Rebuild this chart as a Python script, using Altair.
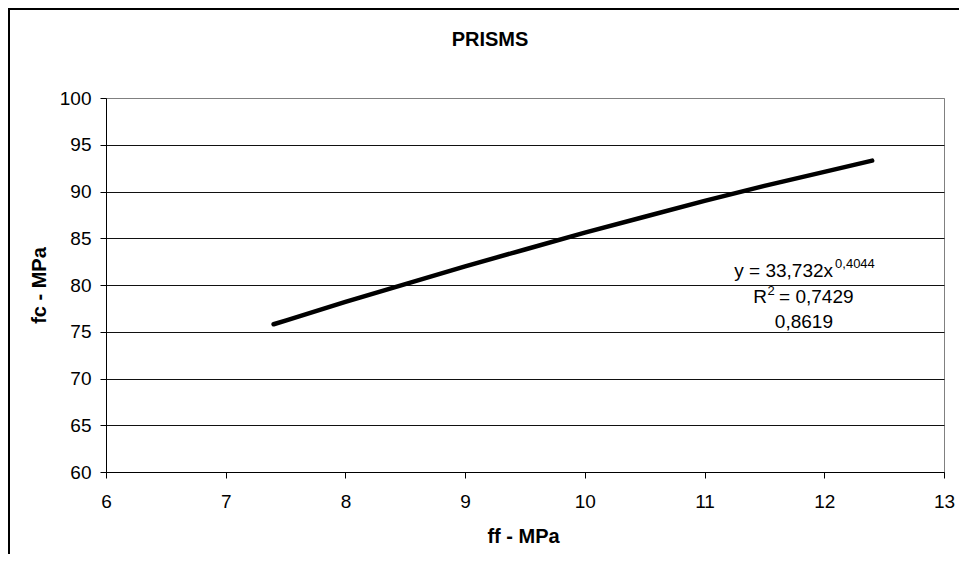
import altair as alt
import pandas as pd

# Trend line values (ff - MPa vs fc - MPa)
ff = [7.4, 7.5, 8.0, 8.5, 9.0, 9.5, 10.0, 10.5, 11.0, 11.5, 12.0, 12.4]
fc = [75.8, 76.2, 78.2, 80.1, 82.0, 83.8, 85.6, 87.3, 89.0, 90.6, 92.1, 93.3]

x_ticks = [6, 7, 8, 9, 10, 11, 12, 13]
y_ticks = [60, 65, 70, 75, 80, 85, 90, 95, 100]

title_text = "PRISMS"
x_title = "ff - MPa"
y_title = "fc - MPa"
eq_main = "y = 33,732x"
eq_exp = "0,4044"
r2_main = "R"
r2_exp = "2"
r2_rest = "= 0,7429"
r_text = "0,8619"

FONT = "Liberation Sans"

df = pd.DataFrame({"ff": ff, "fc": fc})
one = pd.DataFrame({"a": [0]})

xs = alt.Scale(domain=[6, 13], nice=False, zero=False)
ys = alt.Scale(domain=[60, 100], nice=False, zero=False)

line = alt.Chart(df).mark_line(color="black", strokeWidth=4.5, strokeCap="round").encode(
    x=alt.X("ff:Q", scale=xs, axis=alt.Axis(
        values=x_ticks, format="d", title=x_title, grid=False,
        titleX=417, titleY=70, titleBaseline="alphabetic", titleAlign="center",
        titleFontSize=20, titleFontWeight="bold", titleFont=FONT, titleColor="black",
        labelFont=FONT, labelFontSize=19, labelColor="black", labelPadding=14,
        tickSize=6, tickColor="black", domainColor="black", labelFlush=False)),
    y=alt.Y("fc:Q", scale=ys, axis=alt.Axis(
        values=y_ticks, format="d", title=y_title, grid=True,
        gridColor=alt.condition("datum.value == 100", alt.value("#808080"), alt.value("#111111")),
        gridWidth=1,
        titleX=-61, titleY=187, titleAngle=270, titleBaseline="alphabetic", titleAlign="center",
        titleFontSize=20, titleFontWeight="bold", titleFont=FONT, titleColor="black",
        labelFont=FONT, labelFontSize=19, labelColor="black", labelPadding=9,
        tickSize=6, tickColor="black", domainColor="black", labelFlush=False)),
)

frame = alt.Chart(one).mark_rect(fill=None, stroke="black", strokeWidth=2).encode(
    x=alt.value(-97), x2=alt.value(900), y=alt.value(-89), y2=alt.value(600)
)

title = alt.Chart(one).mark_text(font=FONT, fontSize=20, fontWeight="bold", align="center",
                                 baseline="alphabetic", color="black").encode(
    x=alt.value(384), y=alt.value(-52), text=alt.value(title_text))


def txt(x, y, s, size=19, align="left"):
    return alt.Chart(one).mark_text(font=FONT, fontSize=size, align=align,
                                    baseline="alphabetic", color="black").encode(
        x=alt.datum(x), y=alt.datum(y), text=alt.value(s))


eq1 = txt(12.073, 80.86, eq_main, align="right")
eq1s = txt(12.09, 81.85, eq_exp, size=13)
eq2a = txt(11.522, 78.07, r2_main, align="right")
eq2s = txt(11.525, 78.95, r2_exp, size=13)
eq2b = txt(11.622, 78.07, r2_rest)
eq3 = txt(11.83, 75.40, r_text, align="center")

chart = alt.layer(line, eq1, eq1s, eq2a, eq2s, eq2b, eq3, title, frame).properties(
    width=838, height=374,
    autosize=alt.AutoSizeParams(type="none"),
    padding={"left": 98, "top": 90, "right": 15, "bottom": 82},
    background="white",
).configure_view(stroke="#808080", strokeWidth=1)

chart.save("out.html", embed_options={"renderer": "svg", "actions": False})
